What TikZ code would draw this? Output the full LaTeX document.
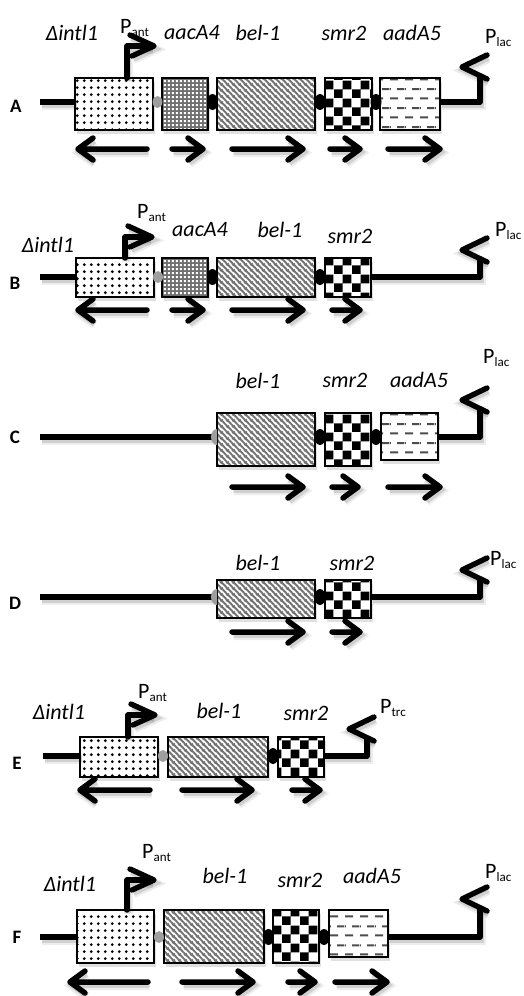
\documentclass[tikz,border=0pt]{standalone}
\usepackage{fontspec}
\setmainfont{Carlito}
\usetikzlibrary{patterns,shapes.geometric}

% fill patterns of the cassettes
\pgfdeclarepatternformonly{gdots}{\pgfqpoint{0pt}{0pt}}{\pgfqpoint{6.8pt}{6.8pt}}{\pgfqpoint{6.8pt}{6.8pt}}%
  {\pgfpathcircle{\pgfqpoint{3.4pt}{3.4pt}}{1.55pt}\pgfusepath{fill}}
\pgfdeclarepatternformonly{gsquares}{\pgfqpoint{0pt}{0pt}}{\pgfqpoint{4.2pt}{4.2pt}}{\pgfqpoint{4.2pt}{4.2pt}}%
  {\pgfpathrectangle{\pgfqpoint{1pt}{1pt}}{\pgfqpoint{2.3pt}{2.3pt}}\pgfusepath{fill}}
\pgfdeclarepatternformonly{gstripes}{\pgfqpoint{0pt}{0pt}}{\pgfqpoint{6pt}{6pt}}{\pgfqpoint{6pt}{6pt}}%
  {\pgfsetlinewidth{2.1pt}%
   \pgfpathmoveto{\pgfqpoint{-1pt}{7pt}}\pgfpathlineto{\pgfqpoint{7pt}{-1pt}}%
   \pgfpathmoveto{\pgfqpoint{-1pt}{1pt}}\pgfpathlineto{\pgfqpoint{1pt}{-1pt}}%
   \pgfpathmoveto{\pgfqpoint{5pt}{7pt}}\pgfpathlineto{\pgfqpoint{7pt}{5pt}}%
   \pgfusepath{stroke}}
\pgfdeclarepatternformonly{gchecks}{\pgfqpoint{0pt}{0pt}}{\pgfqpoint{17.6pt}{17.6pt}}{\pgfqpoint{17.6pt}{17.6pt}}%
  {\pgfpathrectangle{\pgfqpoint{0pt}{0pt}}{\pgfqpoint{8.8pt}{8.8pt}}%
   \pgfpathrectangle{\pgfqpoint{8.8pt}{8.8pt}}{\pgfqpoint{8.8pt}{8.8pt}}\pgfusepath{fill}}
\pgfdeclarepatternformonly{gdashes}{\pgfqpoint{0pt}{0pt}}{\pgfqpoint{15pt}{18.6pt}}{\pgfqpoint{15pt}{18.6pt}}%
  {\pgfsetlinewidth{2pt}%
   \pgfpathmoveto{\pgfqpoint{0pt}{4.65pt}}\pgfpathlineto{\pgfqpoint{8.5pt}{4.65pt}}%
   \pgfpathmoveto{\pgfqpoint{7.5pt}{13.95pt}}\pgfpathlineto{\pgfqpoint{15pt}{13.95pt}}%
   \pgfpathmoveto{\pgfqpoint{0pt}{13.95pt}}\pgfpathlineto{\pgfqpoint{1pt}{13.95pt}}%
   \pgfusepath{stroke}}

% a cassette box: name, style, x1, y1, x2, y2
\newcommand\gbox[6]{\node[#2, minimum width={(#5-#3)*1pt}, minimum height={(#6-#4)*1pt}] (#1) at ({(#3+#5)/2},{(#4+#6)/2}) {};}
% reading-direction arrows: start x, tip x, y
\newcommand\rgene[3]{\draw[garrow] (#1,#3) -- (#2,#3) ({#2-15},{#3-11}) -- (#2,#3) -- ({#2-15},{#3+11});}
\newcommand\lgene[3]{\draw[garrow] (#1,#3) -- (#2,#3) ({#2+15},{#3-11}) -- (#2,#3) -- ({#2+15},{#3+11});}
% P_ant promoter rising from the top of a box: box, corner
\newcommand\pant[2]{%
  \draw[pline] (#1.north -| #2) -- (#2) -- ++(24,0);
  \draw[pline] (#2) ++(3,-11) -- ++(24,11) -- ++(-22,10);}
% downstream promoter: last box, end coordinate, height of the arrow tip
\newcommand\plac[3]{%
  \draw[gline] (#1.east |- #2) -- (#2) -- ++(0,{-(#3-9)});
  \draw[pline] (#2) ++(7,{-#3-12}) -- ++(-25,12) -- ++(25,12);}
\newcommand\psub[1]{P\raisebox{-3.5pt}{\fontsize{13}{14}\selectfont #1}}

\begin{document}
\begin{tikzpicture}[x=1pt,y=-1pt,
  lshadow/.style={
    preaction={draw=black, draw opacity=0.07, line width=9pt, transform canvas={shift={(1.5pt,-3.5pt)}}},
    preaction={draw=black, draw opacity=0.12, line width=5.5pt, transform canvas={shift={(1.5pt,-3pt)}}}},
  gline/.style={lshadow, draw=black, line width=5.5pt, line join=round},
  pline/.style={lshadow, draw=black, line width=5.4pt, line cap=round, line join=round},
  garrow/.style={lshadow, draw=black, line width=5.5pt, line cap=round, line join=round},
  gbox/.style={rectangle, inner sep=0pt, outer sep=0pt,
    preaction={fill=black, fill opacity=0.12, transform canvas={shift={(1.5pt,-3.5pt)}}},
    fill=white},
  boxline/.style={postaction={draw=black, line width=2.4pt}},
  dotbox/.style={gbox, postaction={pattern=gdots, pattern color=black}, boxline},
  sqbox/.style={gbox, fill=black!56, postaction={pattern=gsquares, pattern color=white}, boxline},
  strbox/.style={gbox, postaction={pattern=gstripes, pattern color=black!55}, boxline},
  chkbox/.style={gbox, postaction={pattern=gchecks, pattern color=black}, boxline},
  dshbox/.style={gbox, postaction={pattern=gdashes, pattern color=black!70}, boxline},
  gdot/.style={ellipse, fill=black!38, minimum width=10pt, minimum height=12pt, inner sep=0pt},
  bdot/.style={ellipse, fill=black, minimum width=11pt, minimum height=16pt, inner sep=0pt},
  glab/.style={font=\fontsize{22}{24}\selectfont\itshape, inner sep=0pt},
  plab/.style={font=\fontsize{22}{24}\selectfont, inner sep=0pt, anchor=base west},
  rlab/.style={font=\fontsize{19}{22}\selectfont\bfseries, inner sep=0pt}]
\useasboundingbox (0,0) rectangle (523,996);

% ---------------- A ----------------
\coordinate (Ast) at (40,102);
\coordinate (Aend) at (480,102);
\coordinate (Apx) at (127,46);
\gbox{A1}{dotbox}{75}{78}{153}{130}
\gbox{A2}{sqbox}{162}{78}{208}{130}
\gbox{A3}{strbox}{217}{78}{315}{130}
\gbox{A4}{chkbox}{325}{78}{372}{130}
\gbox{A5}{dshbox}{380}{78}{440}{130}
\draw[gline] (Ast) -- (A1.west |- Ast);
\plac{A5}{Aend}{35}
\pant{A1}{Apx}
\node[gdot] (A12) at (157.5,102) {};
\node[bdot] (A23) at (212.5,102) {};
\node[bdot] (A34) at (320,102) {};
\node[bdot] (A45) at (376,102) {};
\lgene{147}{78}{149}
\rgene{172}{203}{149}
\rgene{232}{303}{149}
\rgene{330}{360}{149}
\rgene{388}{440}{149}
\node[rlab] (Alab) at (16,106) {A};
\node[glab] (Ag1) at (72,33) {Δintl1};
\node[plab] (Apa) at (120,33) {\psub{ant}};
\node[glab] (Ag2) at (192,33) {aacA4};
\node[glab] (Ag3) at (258,33) {bel-1};
\node[glab] (Ag4) at (344,33) {smr2};
\node[glab] (Ag5) at (412,33) {aadA5};
\node[plab] (Apl) at (485,43) {\psub{lac}};

% ---------------- B ----------------
\coordinate (Bst) at (40,277);
\coordinate (Bend) at (480,277);
\coordinate (Bpx) at (125,237);
\gbox{B1}{dotbox}{76}{258}{154}{297}
\gbox{B2}{sqbox}{162}{258}{208}{297}
\gbox{B3}{strbox}{217}{258}{315}{297}
\gbox{B4}{chkbox}{325}{258}{371}{297}
\draw[gline] (Bst) -- (B1.west |- Bst);
\plac{B4}{Bend}{27}
\pant{B1}{Bpx}
\node[gdot] (B12) at (158,277) {};
\node[bdot] (B23) at (212.5,277) {};
\node[bdot] (B34) at (320,277) {};
\lgene{147}{78}{310}
\rgene{172}{203}{310}
\rgene{232}{303}{310}
\rgene{332}{360}{310}
\node[rlab] (Blab) at (15,283) {B};
\node[glab] (Bg1) at (48,245) {Δintl1};
\node[plab] (Bpa) at (137,218) {\psub{ant}};
\node[glab] (Bg2) at (200,230) {aacA4};
\node[glab] (Bg3) at (280,230) {bel-1};
\node[glab] (Bg4) at (350,236) {smr2};
\node[plab] (Bpl) at (495,236) {\psub{lac}};

% ---------------- C ----------------
\coordinate (Cst) at (40,437);
\coordinate (Cend) at (480,437);
\gbox{C3}{strbox}{217}{413}{315}{466}
\gbox{C4}{chkbox}{325}{413}{371}{466}
\gbox{C5}{dshbox}{381}{413}{438}{460}
\draw[gline] (Cst) -- (C3.west |- Cst);
\fill[black!38] (C3.west |- Cst) ++(0,8) arc[start angle=90, end angle=270, x radius=6, y radius=8] -- cycle;
\plac{C5}{Cend}{37}
\node[bdot] (C34) at (320,437) {};
\node[bdot] (C45) at (376,437) {};
\rgene{232}{303}{487}
\rgene{332}{358}{487}
\rgene{388}{440}{487}
\node[rlab] (Clab) at (15,437) {C};
\node[glab] (Cg3) at (258,381) {bel-1};
\node[glab] (Cg4) at (345,380) {smr2};
\node[glab] (Cg5) at (419,380) {aadA5};
\node[plab] (Cpl) at (483,363) {\psub{lac}};

% ---------------- D ----------------
\coordinate (Dst) at (40,597);
\coordinate (Dend) at (480,597);
\gbox{D3}{strbox}{217}{580}{315}{618}
\gbox{D4}{chkbox}{325}{580}{371}{618}
\draw[gline] (Dst) -- (D3.west |- Dst);
\fill[black!38] (D3.west |- Dst) ++(0,8) arc[start angle=90, end angle=270, x radius=6, y radius=8] -- cycle;
\plac{D4}{Dend}{27}
\node[bdot] (D34) at (320,597) {};
\rgene{232}{303}{632}
\rgene{332}{360}{632}
\node[rlab] (Dlab) at (15,603) {D};
\node[glab] (Dg3) at (258,563) {bel-1};
\node[glab] (Dg4) at (352,563) {smr2};
\node[plab] (Dpl) at (490,565) {\psub{lac}};

% ---------------- E ----------------
\coordinate (Est) at (43,756);
\coordinate (Eend) at (367,756);
\coordinate (Epx) at (128,715);
\gbox{E1}{dotbox}{80}{737}{158}{777}
\gbox{E3}{strbox}{168}{737}{268}{777}
\gbox{E4}{chkbox}{278}{737}{324}{777}
\draw[gline] (Est) -- (E1.west |- Est);
\plac{E4}{Eend}{27}
\pant{E1}{Epx}
\node[gdot] (E13) at (163,756) {};
\node[bdot] (E34) at (273,756) {};
\lgene{150}{80}{790}
\rgene{182}{252}{790}
\rgene{292}{320}{790}
\node[rlab] (Elab) at (17,763) {E};
\node[glab] (Eg1) at (59,712) {Δintl1};
\node[plab] (Epa) at (138,698) {\psub{ant}};
\node[glab] (Eg3) at (219,711) {bel-1};
\node[glab] (Eg4) at (306,713) {smr2};
\node[plab] (Ept) at (380,713) {\psub{trc}};

% ---------------- F ----------------
\coordinate (Fst) at (40,937);
\coordinate (Fend) at (480,937);
\coordinate (Fpx) at (127,880);
\gbox{F1}{dotbox}{77}{910}{154}{963}
\gbox{F3}{strbox}{164}{910}{264}{963}
\gbox{F4}{chkbox}{273}{910}{319}{963}
\gbox{F5}{dshbox}{329}{910}{388}{957}
\draw[gline] (Fst) -- (F1.west |- Fst);
\plac{F5}{Fend}{38}
\pant{F1}{Fpx}
\node[gdot] (F13) at (159,937) {};
\node[bdot] (F34) at (268.5,937) {};
\node[bdot] (F45) at (324,937) {};
\lgene{148}{70}{982}
\rgene{182}{253}{982}
\rgene{288}{315}{982}
\rgene{335}{387}{982}
\node[rlab] (Flab) at (17,937) {F};
\node[glab] (Fg1) at (70,884) {Δintl1};
\node[plab] (Fpa) at (142,858) {\psub{ant}};
\node[glab] (Fg3) at (225,876) {bel-1};
\node[glab] (Fg4) at (300,880) {smr2};
\node[glab] (Fg5) at (372,876) {aadA5};
\node[plab] (Fpl) at (485,878) {\psub{lac}};
\end{tikzpicture}
\end{document}
